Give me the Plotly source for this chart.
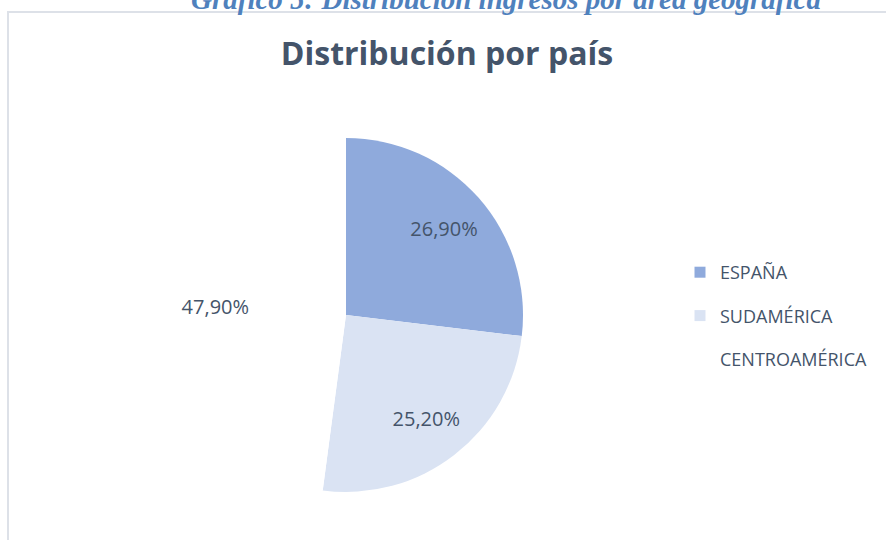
import plotly.graph_objects as go

categories = ["ESPAÑA", "SUDAMÉRICA", "CENTROAMÉRICA"]
values = [26.9, 25.2, 47.9]
colors = ["#8faadc", "#dae3f3", "#ffffff"]

W, H = 886, 540
cx, cy, r = 346, 315, 177
dom = dict(x=[(cx - r) / W, (cx + r) / W], y=[(H - cy - r) / H, (H - cy + r) / H])

fig = go.Figure()
# the pie itself
fig.add_trace(go.Pie(
    labels=categories, values=values, sort=False, direction="clockwise",
    rotation=0, marker=dict(colors=colors, line=dict(width=0)),
    textinfo="none", showlegend=False, hoverinfo="label+percent", domain=dom,
))
# transparent ring carrying the data labels further out (like the original)
fig.add_trace(go.Pie(
    labels=categories, values=values, sort=False, direction="clockwise",
    rotation=0, hole=0.48,
    marker=dict(colors=["rgba(0,0,0,0)"] * len(values), line=dict(width=0)),
    texttemplate="%{percent:.2%}", textposition="inside",
    insidetextorientation="horizontal",
    textfont=dict(family="Open Sans", size=20, color="#44546a"),
    showlegend=False, hoverinfo="skip", domain=dom,
))

# legend entries (one group each to control spacing)
for c, col in zip(categories, colors):
    fig.add_trace(go.Scatter(
        x=[None], y=[None], mode="markers", name=c, legendgroup=c,
        marker=dict(symbol="square", size=11, color=col, line=dict(width=0)),
    ))

fig.update_layout(
    width=W, height=H, margin=dict(l=0, r=0, t=0, b=0),
    paper_bgcolor="white", plot_bgcolor="white",
    separators=",.",
    xaxis=dict(visible=False), yaxis=dict(visible=False),
    title=dict(text="<b>Distribución por país</b>", x=447 / W, xanchor="center",
               y=1 - 54 / H, yanchor="middle",
               font=dict(family="Open Sans", size=32, color="#44546a")),
    legend=dict(x=680 / W, y=1 - 254 / H, xanchor="left", yanchor="top",
                font=dict(family="Open Sans", size=18, color="#44546a"),
                tracegroupgap=17, itemwidth=30, bgcolor="rgba(0,0,0,0)"),
    shapes=[dict(type="rect", xref="paper", yref="paper",
                 x0=8 / W, x1=1.05, y0=-0.05, y1=1 - 12 / H,
                 line=dict(color="#dde1e8", width=2), fillcolor="rgba(0,0,0,0)")],
    annotations=[dict(text="<b><i>Gráfico 5: Distribución ingresos por área geográfica</i></b>",
                      xref="paper", yref="paper", x=506 / W, y=1 + 1 / H,
                      xanchor="center", yanchor="middle", showarrow=False,
                      font=dict(family="Liberation Serif", size=29, color="#4f81bd"))],
)

fig.write_html("out.html", config={"displayModeBar": False},
               post_script="document.body.style.margin='0';")
